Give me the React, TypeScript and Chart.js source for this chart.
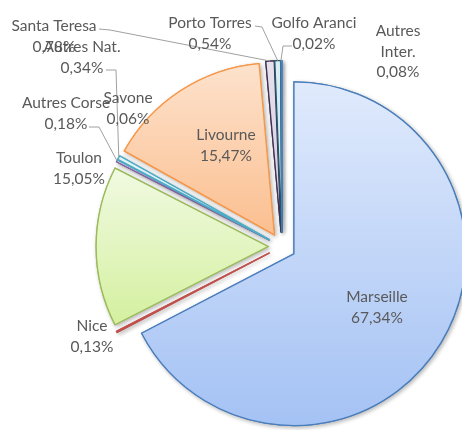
import React, { useEffect, useRef } from 'react';
import { Chart, registerables } from 'chart.js';

Chart.register(...registerables);

// ---- data ----
const categories = [
  'Marseille',
  'Nice',
  'Toulon',
  'Autres Corse',
  'Savone',
  'Autres Nat.',
  'Livourne',
  'Santa Teresa',
  'Porto Torres',
  'Golfo Aranci',
  'Autres Inter.',
];
const shares = [67.34, 0.13, 15.05, 0.18, 0.06, 0.34, 15.47, 0.78, 0.54, 0.02, 0.08];

// ---- styles ----
const borderColors = ['#4a7ebb', '#c0504d', '#9bbb59', '#8064a2', '#4bacc6', '#4bacc6', '#f79646', '#403152', '#215968', '#276a7c', '#4a7ebb'];
const fillTop = ['#e0eafc', '#f2dcdb', '#f1fae2', '#e5e0ec', '#dbeef3', '#e6f4f8', '#fde2cc', '#e5e0ec', '#dbeef3', '#dbeef3', '#dce6f2'];
const fillBottom = ['#a4c2f4', '#e6b9b8', '#d4f09f', '#ccc1da', '#b7dee8', '#c8e8f1', '#fbbf90', '#d5cde2', '#c5e4ee', '#b7dee8', '#b9cde5'];

const EXPLODE = 14;
const FONT = '15.5px Lato';
const TEXT_COLOR = '#595959';
const LINE_H = 20.5;

// label layout (center of first text line)
const labelPos: [number, number][] = [
  [377, 297], [92, 326], [79, 158], [66, 103], [128, 98], [82, 47],
  [226, 135], [54, 26], [210, 23], [314, 23], [398, 31],
];
// leader lines: [startX, startY, elbowX, elbowY] (end is computed from the slice)
const leaders: (number[] | null)[] = [
  null, null, null, [89, 127, 99, 127], null, [106, 70, 116, 70],
  null, [99, 29, 110, 30], [255, 26, 262, 27], [292, 46, 283, 46], null,
];
const wrapLabels = new Set([10]);

function sliceFill(c: any) {
  const chart = c.chart;
  const i = c.dataIndex;
  const area = chart.chartArea;
  const ctrl = chart.getDatasetMeta(0).controller as any;
  if (!area || !ctrl || !ctrl.outerRadius) return fillBottom[i];
  const r = ctrl.outerRadius;
  const cy = (area.top + area.bottom) / 2 + (ctrl.offsetY || 0);
  const data: number[] = c.dataset.data;
  const total = data.reduce((a, b) => a + b, 0);
  let a0 = -Math.PI / 2;
  for (let k = 0; k < i; k++) a0 += (data[k] / total) * Math.PI * 2;
  const a1 = a0 + (data[i] / total) * Math.PI * 2;
  const ys = [cy, cy + r * Math.sin(a0), cy + r * Math.sin(a1)];
  for (const t of [-Math.PI / 2, Math.PI / 2, (3 * Math.PI) / 2]) {
    if (t >= a0 && t <= a1) ys.push(cy + r * Math.sin(t));
  }
  const y0 = Math.min(...ys);
  const y1 = Math.max(...ys);
  const g = chart.ctx.createLinearGradient(0, y0, 0, Math.max(y1, y0 + 1));
  g.addColorStop(0, fillTop[i]);
  g.addColorStop(1, fillBottom[i]);
  return g;
}

const explodePlugin = {
  id: 'explodeDraw',
  beforeDatasetDraw(chart: any, args: any) {
    const ctx = chart.ctx as CanvasRenderingContext2D;
    const arcs = args.meta.data;
    for (const pass of [0, 1]) {
      arcs.forEach((arc: any) => {
        const mid = (arc.startAngle + arc.endAngle) / 2;
        ctx.save();
        ctx.translate(Math.cos(mid) * EXPLODE, Math.sin(mid) * EXPLODE);
        if (pass === 0) {
          ctx.shadowColor = 'rgba(0,0,0,0.28)';
          ctx.shadowBlur = 4;
          ctx.shadowOffsetX = 1.5;
          ctx.shadowOffsetY = 1.5;
        }
        arc.draw(ctx, chart.chartArea);
        ctx.restore();
      });
    }
    return false;
  },
};

const labelPlugin = {
  id: 'sliceLabels',
  afterDraw(chart: any) {
    const ctx = chart.ctx as CanvasRenderingContext2D;
    const arcs = chart.getDatasetMeta(0).data;
    ctx.save();
    // leader lines
    ctx.strokeStyle = '#a0a0a0';
    ctx.lineWidth = 1;
    leaders.forEach((l, i) => {
      if (!l) return;
      const arc = arcs[i];
      const mid = (arc.startAngle + arc.endAngle) / 2;
      const R = arc.outerRadius + EXPLODE;
      const ex = arc.x + Math.cos(mid) * R;
      const ey = arc.y + Math.sin(mid) * R;
      ctx.beginPath();
      ctx.moveTo(l[0], l[1]);
      ctx.lineTo(l[2], l[3]);
      ctx.lineTo(ex, ey);
      ctx.stroke();
    });
    // texts
    ctx.font = FONT;
    ctx.fillStyle = TEXT_COLOR;
    ctx.textAlign = 'center';
    ctx.textBaseline = 'middle';
    categories.forEach((name, i) => {
      const lines = wrapLabels.has(i) ? name.split(' ') : [name];
      lines.push(shares[i].toFixed(2).replace('.', ',') + '%');
      const [x, y] = labelPos[i];
      lines.forEach((t, k) => ctx.fillText(t, x, y + k * LINE_H));
    });
    ctx.restore();
  },
};

export default function App() {
  const ref = useRef<HTMLCanvasElement>(null);
  useEffect(() => {
    const chart = new Chart(ref.current!, {
      type: 'pie',
      data: {
        labels: categories,
        datasets: [
          {
            data: shares,
            backgroundColor: sliceFill as any,
            borderColor: borderColors,
            borderWidth: 1.3,
            borderJoinStyle: 'miter',
          } as any,
        ],
      },
      options: {
        responsive: false,
        animation: false,
        events: [],
        layout: { padding: { left: 109.5, right: 7.5, top: 74, bottom: 11 } },
        plugins: { legend: { display: false }, tooltip: { enabled: false } },
      },
      plugins: [explodePlugin, labelPlugin],
    });
    return () => chart.destroy();
  }, []);
  return (
    <div style={{ position: 'fixed', left: 0, top: 0, width: 462, height: 430, background: '#fff' }}>
      <canvas ref={ref} width={462} height={430} style={{ display: 'block', width: 462, height: 430 }} />
    </div>
  );
}
